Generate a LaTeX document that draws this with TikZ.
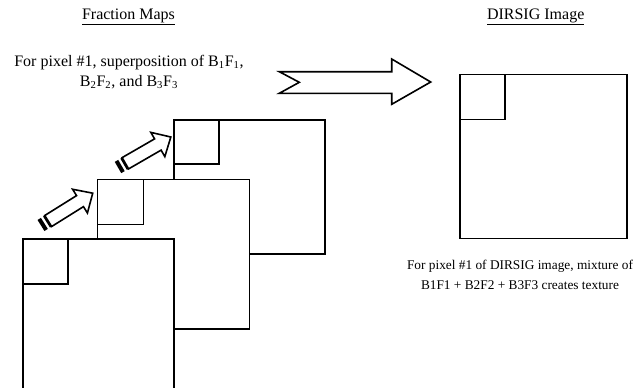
\documentclass[tikz,border=0pt]{standalone}
\usepackage{fontspec}
\setmainfont{Liberation Serif}

\tikzset{
  frame/.style={draw=black,line width=1.2pt,fill=white},
  label/.style={font=\fontsize{12}{15}\selectfont,align=center,inner sep=0pt}
}

\begin{document}
\begin{tikzpicture}[x=0.75pt,y=-0.75pt,line join=miter]
\useasboundingbox (0,0) rectangle (639,387);

% titles
\node[label] (fracTitle) at (128.5,17) {\underline{Fraction Maps}};
\node[label] (dirsigTitle) at (535.7,17) {\underline{DIRSIG Image}};
\node[label] (fracNote) at (129,72) {For pixel \#1, superposition of B\textsubscript{1}F\textsubscript{1},\\B\textsubscript{2}F\textsubscript{2}, and B\textsubscript{3}F\textsubscript{3}};
\node[label,font=\fontsize{10}{15}\selectfont] (mixNote) at (520,274.5) {For pixel \#1 of DIRSIG image, mixture of\\B1F1 + B2F2 + B3F3 creates texture};

% fraction maps, back to front
\draw[frame] (173.7,120) rectangle (325,254);
\draw[frame] (173.7,120) rectangle (219,164);
\draw[frame] (97.3,179.3) rectangle (249.3,329);
\draw[frame] (97.3,179.3) rectangle (143.3,224.3);
\fill[white] (22.7,238.7) rectangle (174,390);
\draw[line width=1.2pt] (22.7,390) -- (22.7,238.7) -- (174,238.7) -- (174,390);
\draw[frame] (22.7,238.7) rectangle (68,284);

% striped arrows
\foreach \x/\y/\a in {41/225.5/32, 118/167.5/30}{
  \begin{scope}[shift={(\x,\y)},rotate=\a]
    \fill (0,-6.5) rectangle (4,6.5);
    \fill (6.5,-6.5) rectangle (8.5,6.5);
    \draw[line width=1.2pt,fill=white] (8.5,-6.5) -- (46,-6.5) -- (46,-14) -- (61,0)
      -- (46,14) -- (46,6.5) -- (8.5,6.5) -- cycle;
  \end{scope}
}

% big arrow
\draw[line width=1.2pt] (279.3,71.7) -- (391.7,71.7) -- (391.7,59) -- (430.7,82)
  -- (391.7,104.3) -- (391.7,93.3) -- (279.3,93.3) -- (299.3,82.3) -- cycle;

% DIRSIG image
\draw[frame] (460,74.3) rectangle (626.7,238.3);
\draw[frame] (460,74.3) rectangle (505,119.3);
\end{tikzpicture}
\end{document}
